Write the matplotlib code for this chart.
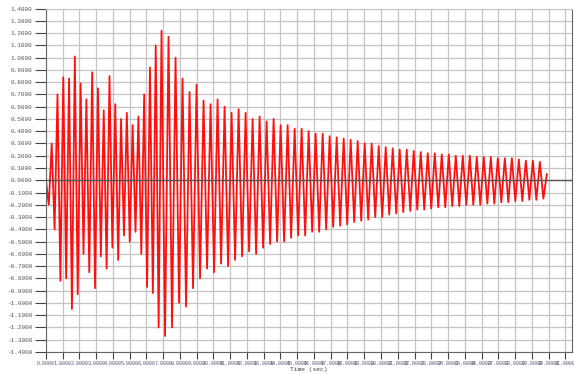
import matplotlib
matplotlib.use("Agg")
import matplotlib.pyplot as plt
import numpy as np

# peak / trough amplitude of each cycle (g)
peaks = [0.30, 0.70, 0.84, 0.83, 1.01, 0.79, 0.66, 0.88, 0.75, 0.57,
         0.85, 0.62, 0.50, 0.55, 0.45, 0.52, 0.70, 0.92, 1.10, 1.22,
         1.17, 1.00, 0.83, 0.72, 0.78, 0.65, 0.62, 0.66, 0.60, 0.55,
         0.58, 0.55, 0.50, 0.52, 0.48, 0.50, 0.45, 0.45, 0.42, 0.42,
         0.40, 0.38, 0.38, 0.36, 0.35, 0.34, 0.33, 0.32, 0.30, 0.30,
         0.28, 0.27, 0.26, 0.25, 0.25, 0.24, 0.23, 0.22, 0.22, 0.21,
         0.21, 0.20, 0.20, 0.20, 0.19, 0.19, 0.19, 0.18, 0.18, 0.18,
         0.17, 0.16, 0.16, 0.15]
troughs = [-0.40, -0.82, -0.80, -1.05, -0.93, -0.60, -0.75, -0.88, -0.62, -0.72,
           -0.55, -0.65, -0.45, -0.50, -0.42, -0.60, -0.87, -0.92, -1.20, -1.27,
           -1.20, -1.00, -1.03, -0.88, -0.80, -0.72, -0.75, -0.68, -0.70, -0.65,
           -0.62, -0.58, -0.60, -0.55, -0.52, -0.50, -0.50, -0.47, -0.45, -0.45,
           -0.42, -0.42, -0.40, -0.38, -0.37, -0.36, -0.34, -0.33, -0.32, -0.30,
           -0.30, -0.28, -0.27, -0.26, -0.25, -0.24, -0.24, -0.23, -0.22, -0.22,
           -0.21, -0.21, -0.20, -0.20, -0.20, -0.19, -0.19, -0.18, -0.18, -0.17,
           -0.17, -0.16, -0.16, -0.15]
t_max_peak = 6.9   # sec, time of the 1.22 peak (20th cycle)
duration = 29.9    # sec

acc = [0.0, -0.2]
for p, t in zip(peaks, troughs):
    acc += [p, t]
acc += [0.05]
acc = np.array(acc)
i_max = 2 + 2 * 19
time = np.concatenate([np.linspace(0, t_max_peak, i_max + 1),
                       np.linspace(t_max_peak, duration, len(acc) - i_max)[1:]])

xticks = np.arange(0, 32, 1)
yticks = np.round(np.arange(-1.4, 1.41, 0.1), 1)

fig = plt.figure(figsize=(5.74, 3.74), dpi=100)
ax = fig.add_axes([0.080, 0.059, 0.9165, 0.918])

ax.plot(time, acc, color="#ff1010", lw=1.3, solid_joinstyle="round")
ax.axhline(0, color="#555555", lw=1.0, zorder=3)

ax.set_xlim(0, 31.4)
ax.set_ylim(-1.4, 1.4)
ax.set_xticks(xticks)
ax.set_yticks(yticks)
ax.set_xticklabels(["%.4f" % v for v in xticks], family="Liberation Mono",
                   fontsize=3.6, color="#555577")
ax.set_yticklabels(["%.4f" % v for v in yticks], family="Liberation Mono",
                   fontsize=4.3, color="#555555")
ax.tick_params(axis="y", length=8, width=0.8, color="#444444", pad=2)
ax.tick_params(axis="x", length=5, width=0.8, color="#444444", pad=1.5)
ax.grid(True, color="#c4c4c4", lw=0.9)
ax.set_axisbelow(True)
for s in ax.spines.values():
    s.set_color("#666666")
    s.set_linewidth(0.8)
ax.spines["top"].set_color("#c4c4c4")
ax.set_xlabel("Time (sec)", family="Liberation Mono", fontsize=4.5, color="#444444",
              labelpad=0.5)

fig.savefig("out.png", dpi=100)
